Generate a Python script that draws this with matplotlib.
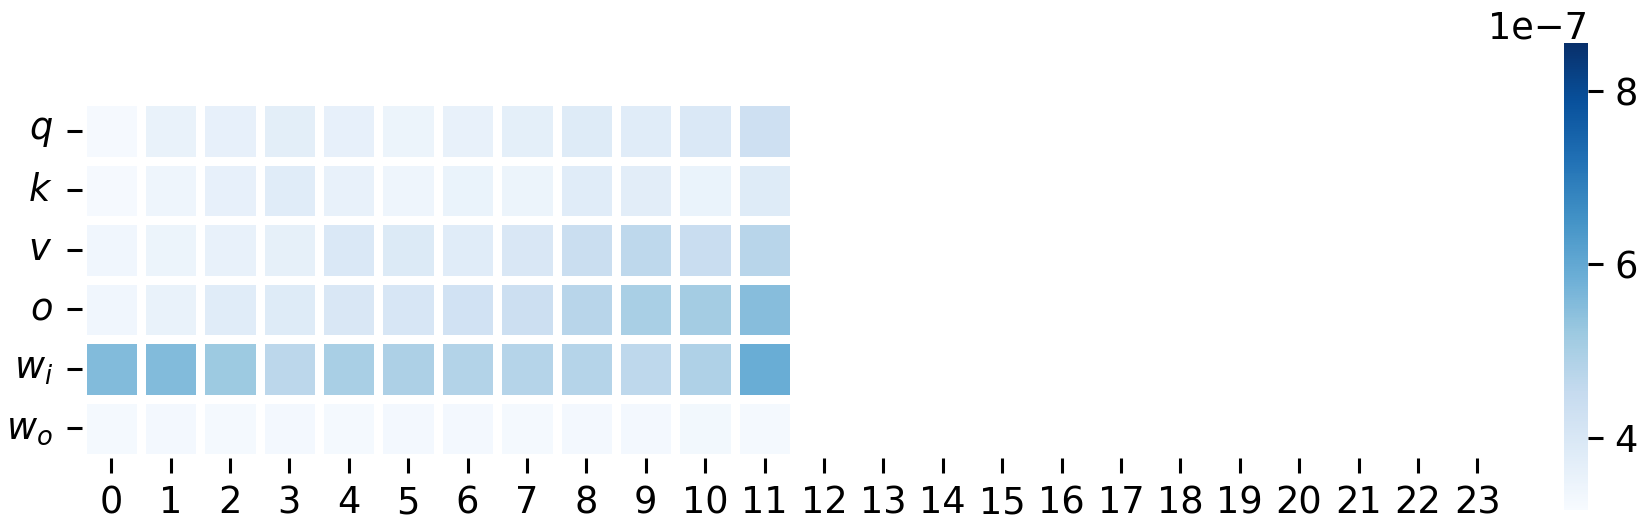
import numpy as np
import matplotlib
matplotlib.use("Agg")
import matplotlib.pyplot as plt
from matplotlib.ticker import MultipleLocator
import seaborn as sns

row_labels = ["$q$", "$k$", "$v$", "$o$", "$w_i$", "$w_o$"]
col_labels = [str(i) for i in range(24)]

# values in units of 1e-7, first 12 layers present, rest missing
q_vals  = [3.25, 3.55, 3.62, 3.72, 3.62, 3.48, 3.58, 3.68, 3.85, 3.78, 3.95, 4.30]
k_vals  = [3.25, 3.42, 3.62, 3.80, 3.58, 3.42, 3.52, 3.48, 3.80, 3.75, 3.52, 3.85]
v_vals  = [3.38, 3.48, 3.58, 3.65, 3.95, 3.90, 3.80, 4.00, 4.40, 4.65, 4.45, 4.75]
o_vals  = [3.38, 3.55, 3.80, 3.85, 4.00, 4.05, 4.20, 4.35, 4.75, 5.00, 5.10, 5.50]
wi_vals = [5.55, 5.55, 5.20, 4.70, 5.00, 4.95, 4.85, 4.80, 4.80, 4.65, 4.90, 5.90]
wo_vals = [3.26, 3.28, 3.26, 3.28, 3.26, 3.28, 3.28, 3.26, 3.28, 3.28, 3.30, 3.26]

vmin_v = 3.17e-7
vmax_v = 8.55e-7
cbar_step = 2e-7

rows = [q_vals, k_vals, v_vals, o_vals, wi_vals, wo_vals]
data = np.full((len(row_labels), len(col_labels)), np.nan)
for i, r in enumerate(rows):
    data[i, :len(r)] = np.array(r) * 1e-7

W, H = 1643, 527
fig = plt.figure(figsize=(W / 100, H / 100), dpi=100)
ax = fig.add_axes([81.5 / W, (H - 458) / H, (1507 - 81.5) / W, (458 - 101) / H])
cax = fig.add_axes([1564 / W, (H - 510) / H, 24 / W, (510 - 43) / H])

sns.heatmap(data, ax=ax, cbar_ax=cax, cmap="Blues", vmin=vmin_v, vmax=vmax_v,
            linewidths=6.3, linecolor="white",
            xticklabels=col_labels, yticklabels=row_labels)

fs = 26.5
ax.tick_params(axis="both", which="major", length=10.8, width=2.2, labelsize=fs, pad=8)
ax.tick_params(axis="x", labelrotation=0)
ax.tick_params(axis="y", labelrotation=0, pad=10)
for s in ax.spines.values():
    s.set_visible(False)

cax.yaxis.set_major_locator(MultipleLocator(cbar_step))
cax.tick_params(length=10.8, width=2.2, labelsize=fs, pad=8)
cax.yaxis.get_offset_text().set_fontsize(fs)
for s in cax.spines.values():
    s.set_visible(False)

fig.savefig("out.png", dpi=100)
